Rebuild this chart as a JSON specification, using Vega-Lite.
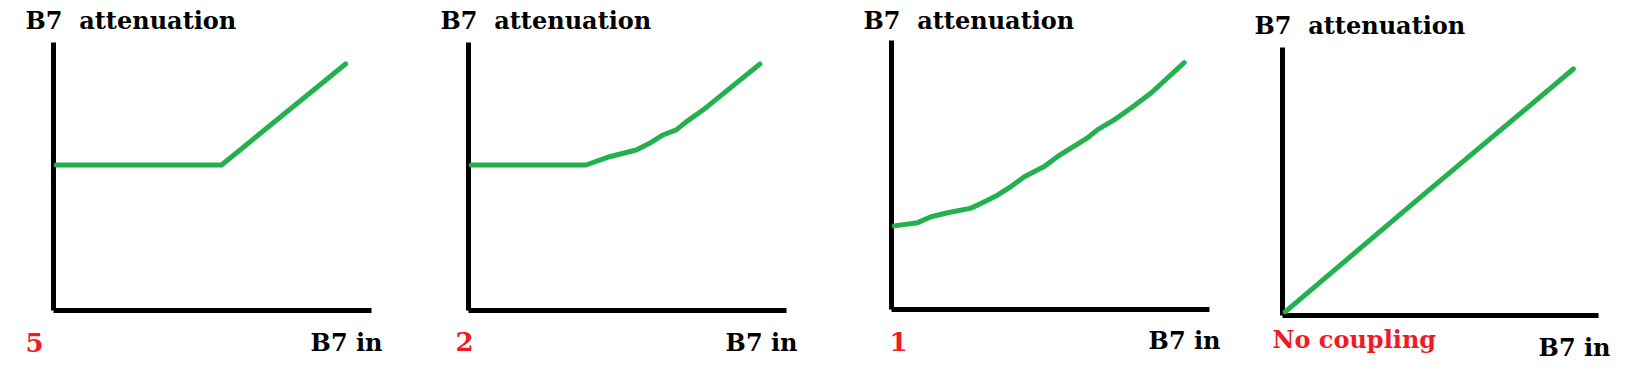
{
  "$schema": "https://vega.github.io/schema/vega-lite/v6.json",
  "background": "white",
  "padding": {"left": 24, "top": 9, "right": 0, "bottom": 0},
  "autosize": {"type": "pad"},
  "config": {
    "view": {"stroke": null},
    "axis": {
      "grid": false,
      "ticks": false,
      "tickSize": 0,
      "domainColor": "#000000",
      "domainWidth": 5,
      "titleFont": "DejaVu Serif",
      "titleFontWeight": "bold",
      "titleFontSize": 24,
      "titleColor": "#000000",
      "labelFont": "DejaVu Serif",
      "labelFontWeight": "bold",
      "labelColor": "#ED1C24",
      "labelFlush": false,
      "labelOverlap": false,
      "labelBaseline": "alphabetic"
    },
    "line": {"color": "#22B14C", "strokeWidth": 5, "strokeCap": "round", "strokeJoin": "round"}
  },
  "spacing": 66,
  "hconcat": [
    {
      "spacing": 58,
      "hconcat": [
        {
          "width": 318,
          "height": 270,
          "data": {"values": [{"x": 1, "y": 54.1}, {"x": 53, "y": 54.1}, {"x": 92, "y": 91.8}]},
          "mark": {"type": "line"},
          "encoding": {
            "x": {"field": "x", "type": "quantitative", "scale": {"domain": [0, 100], "nice": false},
              "axis": {"values": [0], "labelExpr": "'5'", "labelFontSize": 26, "labelAlign": "center", "labelOffset": -19, "labelPadding": 41,
                "title": "B7 in", "titleX": 329, "titleY": 40, "titleAlign": "right", "titleBaseline": "alphabetic"}},
            "y": {"field": "y", "type": "quantitative", "scale": {"domain": [0, 100], "nice": false, "range": [270, 2]},
              "axis": {"labels": false, "title": "B7\u00a0 attenuation", "titleAngle": 0, "titleX": -28, "titleY": -12, "titleAlign": "left", "titleBaseline": "alphabetic"}}
          }
        },
        {
          "width": 318,
          "height": 270,
          "data": {"values": [
            {"x": 1, "y": 54.1}, {"x": 32.9, "y": 54.1}, {"x": 37.1, "y": 54.1}, {"x": 44.5, "y": 57.2},
            {"x": 52.9, "y": 59.7}, {"x": 57.1, "y": 62.2}, {"x": 61.3, "y": 65.3}, {"x": 65.5, "y": 67.2},
            {"x": 68.7, "y": 70.3}, {"x": 73.9, "y": 74.6}, {"x": 82.3, "y": 82.7}, {"x": 91.8, "y": 91.8}
          ]},
          "mark": {"type": "line"},
          "encoding": {
            "x": {"field": "x", "type": "quantitative", "scale": {"domain": [0, 100], "nice": false},
              "axis": {"values": [0], "labelExpr": "'2'", "labelFontSize": 26, "labelAlign": "center", "labelOffset": -4, "labelPadding": 40,
                "title": "B7 in", "titleX": 329, "titleY": 40, "titleAlign": "right", "titleBaseline": "alphabetic"}},
            "y": {"field": "y", "type": "quantitative", "scale": {"domain": [0, 100], "nice": false, "range": [270, 2]},
              "axis": {"labels": false, "title": "B7\u00a0 attenuation", "titleAngle": 0, "titleX": -28, "titleY": -12, "titleAlign": "left", "titleBaseline": "alphabetic"}}
          }
        }
      ]
    },
    {
      "spacing": 34,
      "hconcat": [
        {
          "width": 318,
          "height": 269,
          "data": {"values": [
            {"x": 1, "y": 30.9}, {"x": 8.4, "y": 32.1}, {"x": 12.6, "y": 34.3}, {"x": 17.8, "y": 35.8},
            {"x": 25.2, "y": 37.5}, {"x": 29.4, "y": 39.9}, {"x": 33.6, "y": 42.4}, {"x": 37.7, "y": 45.5},
            {"x": 41.9, "y": 49.2}, {"x": 48.2, "y": 53.0}, {"x": 52.4, "y": 56.7}, {"x": 56.6, "y": 59.8},
            {"x": 61.8, "y": 63.6}, {"x": 65.0, "y": 66.7}, {"x": 70.2, "y": 70.3}, {"x": 75.5, "y": 74.7},
            {"x": 81.8, "y": 80.3}, {"x": 92.2, "y": 91.6}
          ]},
          "mark": {"type": "line"},
          "encoding": {
            "x": {"field": "x", "type": "quantitative", "scale": {"domain": [0, 100], "nice": false},
              "axis": {"values": [0], "labelExpr": "'1'", "labelFontSize": 26, "labelAlign": "center", "labelOffset": 7, "labelPadding": 41,
                "title": "B7 in", "titleX": 329, "titleY": 39, "titleAlign": "right", "titleBaseline": "alphabetic"}},
            "y": {"field": "y", "type": "quantitative", "scale": {"domain": [0, 100], "nice": false, "range": [269, 0]},
              "axis": {"labels": false, "title": "B7\u00a0 attenuation", "titleAngle": 0, "titleX": -28, "titleY": -12, "titleAlign": "left", "titleBaseline": "alphabetic"}}
          }
        },
        {
          "width": 316,
          "height": 275,
          "data": {"values": [{"x": 1, "y": 1.2}, {"x": 44.7, "y": 44.8}, {"x": 92.2, "y": 91.8}]},
          "mark": {"type": "line"},
          "encoding": {
            "x": {"field": "x", "type": "quantitative", "scale": {"domain": [0, 100], "nice": false},
              "axis": {"values": [0], "labelExpr": "'No coupling'", "labelFontSize": 24, "labelAlign": "left", "labelOffset": -10, "labelPadding": 32,
                "title": "B7 in", "titleX": 328, "titleY": 40, "titleAlign": "right", "titleBaseline": "alphabetic"}},
            "y": {"field": "y", "type": "quantitative", "scale": {"domain": [0, 100], "nice": false, "range": [275, 7]},
              "axis": {"labels": false, "title": "B7\u00a0 attenuation", "titleAngle": 0, "titleX": -28, "titleY": -7, "titleAlign": "left", "titleBaseline": "alphabetic"}}
          }
        }
      ]
    }
  ]
}
